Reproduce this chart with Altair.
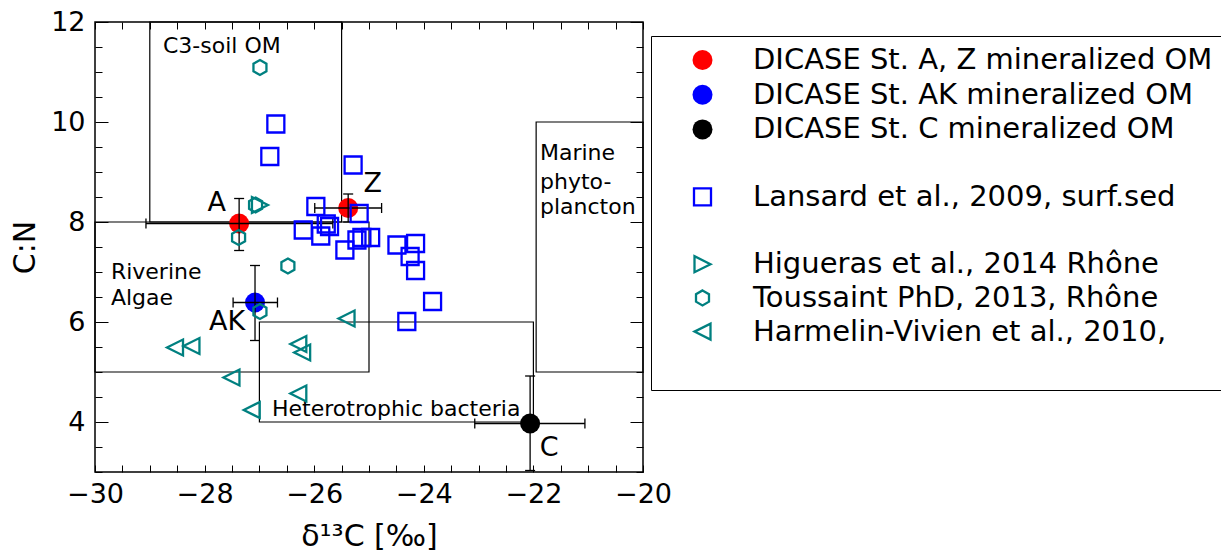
import altair as alt
import pandas as pd

# ---------------- series / legend ----------------
S_AZ = "DICASE St. A, Z mineralized OM"
S_AK = "DICASE St. AK mineralized OM"
S_C = "DICASE St. C mineralized OM"
S_LAN = "Lansard et al., 2009, surf.sed"
S_HIG = "Higueras et al., 2014 Rhône"
S_TOU = "Toussaint PhD, 2013, Rhône"
S_HAR = "Harmelin-Vivien et al., 2010,"

LEFT_TRI = "M-1,0L1,-1L1,1Z"
RIGHT_TRI = "M1,0L-1,-1L-1,1Z"
HEX = "M0,-1L0.866,-0.5L0.866,0.5L0,1L-0.866,0.5L-0.866,-0.5Z"

series_order = [S_AZ, S_AK, S_C, " ", S_LAN, "  ", S_HIG, S_TOU, S_HAR, "   "]
series_shape = ["circle", "circle", "circle", "circle", "square", "circle", RIGHT_TRI, HEX, LEFT_TRI, "circle"]
series_fill = ["red", "blue", "black", "transparent", "transparent", "transparent",
               "transparent", "transparent", "transparent", "transparent"]
series_stroke = ["transparent", "transparent", "transparent", "transparent", "blue", "transparent",
                 "teal", "teal", "teal", "transparent"]
series_size = [400, 400, 400, 100, 289, 100, 256, 225, 256, 100]

# ---------------- DICASE data ----------------
dicase_x = [-27.37, -25.38, -27.08, -22.06]
dicase_y = [7.97, 8.28, 6.39, 3.97]
dicase_series = [S_AZ, S_AZ, S_AK, S_C]
dicase_xlo = [-29.07, -25.99, -27.48, -23.07]
dicase_xhi = [-25.66, -24.77, -26.67, -21.06]
dicase_ylo = [7.43, 8.00, 5.63, 3.03]
dicase_yhi = [8.47, 8.56, 7.13, 4.92]

station_label = ["A", "Z", "AK", "C"]
station_label_x = [-27.78, -24.93, -27.59, -21.71]
station_label_y = [8.38, 8.76, 6.00, 3.48]

# ---------------- literature data ----------------
lansard_x = [-26.70, -26.81, -25.29, -25.97, -25.18, -26.20, -25.88, -25.78, -25.72, -25.44,
             -25.22, -25.13, -24.97, -24.49, -24.15, -24.25, -24.15, -23.84, -24.31]
lansard_y = [9.96, 9.31, 9.14, 8.31, 8.17, 7.84, 7.72, 7.96, 7.91, 7.44,
             7.64, 7.69, 7.69, 7.54, 7.57, 7.31, 7.03, 6.41, 6.01]

higueras_x = [-26.99]
higueras_y = [8.34]

toussaint_x = [-26.99, -27.07, -27.38, -26.48, -26.99]
toussaint_y = [11.09, 8.34, 7.69, 7.12, 6.21]

harmelin_x = [-28.54, -28.24, -27.51, -27.14, -26.29, -26.22, -26.29, -25.41]
harmelin_y = [5.49, 5.52, 4.89, 4.24, 5.56, 5.39, 4.57, 6.07]

# ---------------- source boxes ----------------
box_x1 = [-29.0, -30.0, -27.0, -21.95]
box_x2 = [-25.5, -25.0, -22.0, -20.0]
box_y1 = [8.0, 5.0, 4.0, 5.0]
box_y2 = [12.0, 8.0, 6.0, 10.0]

box_text = ["C3-soil OM", "Riverine", "Algae", "Heterotrophic bacteria", "Marine", "phyto-", "plancton"]
box_text_x = [-28.76, -29.71, -29.71, -26.77, -21.88, -21.88, -21.88]
box_text_y = [11.52, 7.00, 6.48, 4.26, 9.38, 8.80, 8.30]

# axis ticks
x_label_values = [-30, -28, -26, -24, -22, -20]
y_label_values = [4, 6, 8, 10, 12]
x_tick_values = [-30 + 0.5 * i for i in range(21)]
y_tick_values = [3 + 0.5 * i for i in range(19)]

# ---------------- build tables ----------------
boxes = pd.DataFrame({"x1": box_x1, "x2": box_x2, "y1": box_y1, "y2": box_y2})
btext = pd.DataFrame({"t": box_text, "x": box_text_x, "y": box_text_y})
dic = pd.DataFrame({"x": dicase_x, "y": dicase_y, "series": dicase_series,
                    "xlo": dicase_xlo, "xhi": dicase_xhi, "ylo": dicase_ylo, "yhi": dicase_yhi})
caps_v = pd.DataFrame({"x": dicase_xlo + dicase_xhi, "y": dicase_y + dicase_y})
caps_h = pd.DataFrame({"x": dicase_x + dicase_x, "y": dicase_ylo + dicase_yhi})
stations = pd.DataFrame({"t": station_label, "x": station_label_x, "y": station_label_y})

other = pd.concat([
    pd.DataFrame({"x": lansard_x, "y": lansard_y, "series": S_LAN}),
    pd.DataFrame({"x": toussaint_x, "y": toussaint_y, "series": S_TOU}),
    pd.DataFrame({"x": higueras_x, "y": higueras_y, "series": S_HIG}),
    pd.DataFrame({"x": harmelin_x, "y": harmelin_y, "series": S_HAR}),
], ignore_index=True)

XS = alt.Scale(domain=[-30, -20], nice=False, zero=False)
YS = alt.Scale(domain=[3, 12], nice=False, zero=False)
W, H = 548, 450

FONT = "DejaVu Sans"

x_label_axis = alt.Axis(orient="bottom", values=x_label_values, ticks=False, domain=False, grid=False,
                        labelFontSize=27, labelPadding=9, labelFlush=False, labelOverlap=False,
                        title="δ¹³C [‰]", titleFontSize=30, titlePadding=14, format="d")
y_label_axis = alt.Axis(orient="left", values=y_label_values, ticks=False, domain=False, grid=False,
                        labelFontSize=27, labelPadding=10, labelFlush=False, labelOverlap=False,
                        title="C:N", titleFontSize=30, titlePadding=10, format="d")

x_tick_size = 7
y_tick_size = {"condition": {"test": "datum.value % 2 === 0", "value": 13}, "value": 7}


def tick_axis(orient, offset, values, size):
    return alt.Axis(orient=orient, offset=offset, values=values, labels=False, domain=False,
                    grid=False, title=None, tickSize=size, tickColor="black", tickWidth=1)


NOAX = None

# the legend frame runs past the right edge of the picture (as in the reference)
legend = alt.Legend(orient="none", legendX=556, legendY=14, title=None, padding=9.5,
                    symbolOffset=27.5, labelOffset=36, rowPadding=3.7, labelFontSize=29,
                    labelFont=FONT, strokeColor="black", fillColor="white",
                    symbolStrokeWidth=2.3, labelLimit=0, labelColor="black",
                    labelExpr="datum.index == 0 ? datum.label + '          ' : datum.label")


def point_enc(extra_x_axis=None, extra_y_axis=None):
    return dict(
        x=alt.X("x:Q", scale=XS, axis=extra_x_axis),
        y=alt.Y("y:Q", scale=YS, axis=extra_y_axis),
        fill=alt.Fill("series:N", scale=alt.Scale(domain=series_order, range=series_fill), legend=legend),
        stroke=alt.Stroke("series:N", scale=alt.Scale(domain=series_order, range=series_stroke), legend=legend),
        shape=alt.Shape("series:N", scale=alt.Scale(domain=series_order, range=series_shape), legend=legend),
        size=alt.Size("series:N", scale=alt.Scale(type="ordinal", domain=series_order, range=series_size), legend=legend),
    )


box_layer = alt.Chart(boxes).mark_rect(fill=None, stroke="black", strokeWidth=1.2).encode(
    x=alt.X("x1:Q", scale=XS, axis=x_label_axis),
    x2="x2:Q",
    y=alt.Y("y1:Q", scale=YS, axis=y_label_axis),
    y2="y2:Q",
)

box_text_layer = alt.Chart(btext).mark_text(align="left", baseline="middle", fontSize=22,
                                            font=FONT, color="black").encode(
    x=alt.X("x:Q", scale=XS, axis=tick_axis("top", -H, x_tick_values, x_tick_size)),
    y=alt.Y("y:Q", scale=YS, axis=tick_axis("right", -W, y_tick_values, y_tick_size)),
    text="t:N",
)

circle_layer = alt.Chart(dic).mark_point(opacity=1, strokeWidth=2.3).encode(**point_enc(NOAX, NOAX))

err_h = alt.Chart(dic).mark_rule(color="black", strokeWidth=1.3).encode(
    x=alt.X("xlo:Q", scale=XS, axis=NOAX), x2="xhi:Q", y=alt.Y("y:Q", scale=YS, axis=NOAX))
err_v = alt.Chart(dic).mark_rule(color="black", strokeWidth=1.3).encode(
    x=alt.X("x:Q", scale=XS, axis=NOAX), y=alt.Y("ylo:Q", scale=YS, axis=NOAX), y2="yhi:Q")
cap_v = alt.Chart(caps_v).mark_tick(orient="vertical", color="black", size=10, thickness=1.3, opacity=1).encode(
    x=alt.X("x:Q", scale=XS, axis=NOAX), y=alt.Y("y:Q", scale=YS, axis=NOAX))
cap_h = alt.Chart(caps_h).mark_tick(orient="horizontal", color="black", size=10, thickness=1.3, opacity=1).encode(
    x=alt.X("x:Q", scale=XS, axis=NOAX), y=alt.Y("y:Q", scale=YS, axis=NOAX))

other_layer = alt.Chart(other).mark_point(opacity=1, strokeWidth=2.3).encode(**point_enc(NOAX, NOAX))

station_layer = alt.Chart(stations).mark_text(align="center", baseline="middle", fontSize=27,
                                              font=FONT, color="black").encode(
    x=alt.X("x:Q", scale=XS, axis=tick_axis("bottom", -H, x_tick_values, x_tick_size)),
    y=alt.Y("y:Q", scale=YS, axis=tick_axis("left", -W, y_tick_values, y_tick_size)),
    text="t:N",
)

chart = alt.layer(
    box_layer, box_text_layer, circle_layer, err_h, err_v, cap_v, cap_h, other_layer, station_layer
).resolve_axis(
    x="independent", y="independent"
).properties(
    width=W, height=H,
    padding={"left": 87, "top": 14, "right": 578, "bottom": 79},
    autosize=alt.AutoSizeParams(type="none"),
    background="white",
).configure_view(
    stroke="black", strokeWidth=1.5
).configure_axis(
    labelFont=FONT, titleFont=FONT, titleFontWeight="normal", labelColor="black", titleColor="black"
)

chart.save("out.html", embed_options={"renderer": "svg", "actions": False})
